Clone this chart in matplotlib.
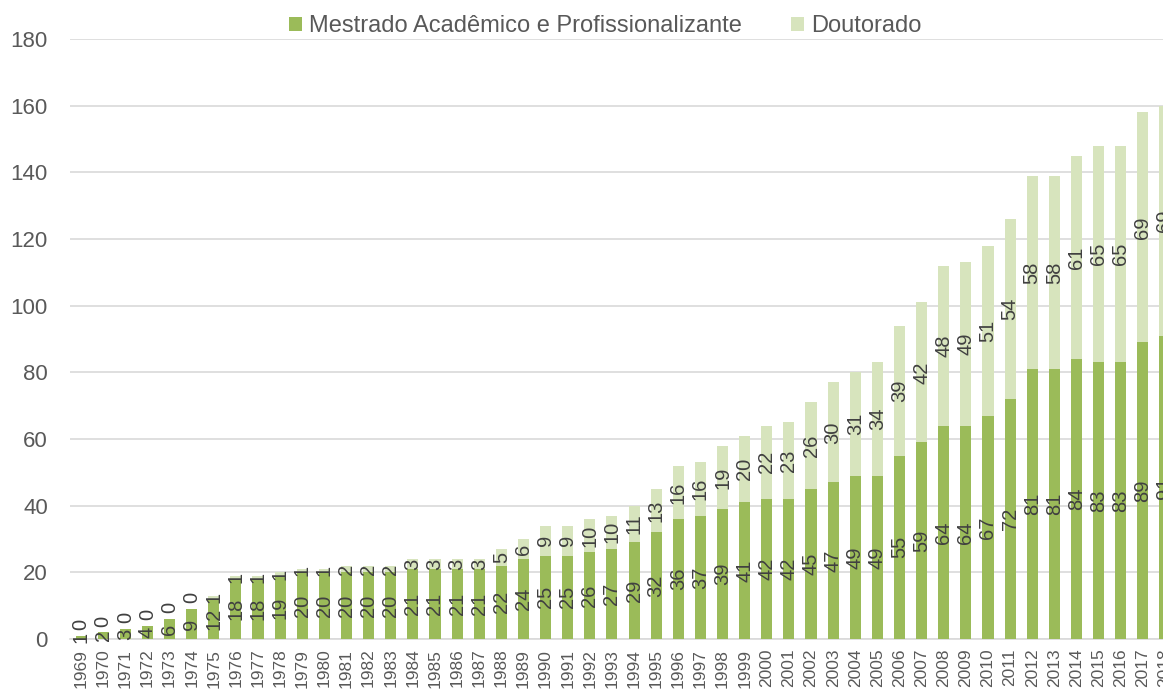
import matplotlib
matplotlib.use("Agg")
import matplotlib.pyplot as plt
import numpy as np

plt.rcParams['font.family'] = ['Liberation Sans', 'DejaVu Sans']

years = list(range(1969, 2019))
mestrado = [1, 2, 3, 4, 6, 9, 12, 18, 18, 19, 20, 20, 20, 20, 20, 21, 21, 21, 21, 22,
            24, 25, 25, 26, 27, 29, 32, 36, 37, 39, 41, 42, 42, 45, 47, 49, 49, 55, 59, 64,
            64, 67, 72, 81, 81, 84, 83, 83, 89, 91]
doutorado = [0, 0, 0, 0, 0, 0, 1, 1, 1, 1, 1, 1, 2, 2, 2, 3, 3, 3, 3, 5,
             6, 9, 9, 10, 10, 11, 13, 16, 16, 19, 20, 22, 23, 26, 30, 31, 34, 39, 42, 48,
             49, 51, 54, 58, 58, 61, 65, 65, 69, 69]
series_names = ["Mestrado Acadêmico e Profissionalizante", "Doutorado"]
yticks = [0, 20, 40, 60, 80, 100, 120, 140, 160, 180]

c_m = "#9BBB59"
c_d = "#D7E4BD"
txt = "#595959"
lbl = "#404040"

fig = plt.figure(figsize=(11.63, 6.90), dpi=100)
ax = fig.add_axes([70/1163, 51/690, 1106/1163, 600/690])

x = np.arange(len(years))
m = np.array(mestrado)
d = np.array(doutorado)
w = 0.5
b1 = ax.bar(x, m, width=w, color=c_m, label=series_names[0], zorder=3)
b2 = ax.bar(x, d, width=w, bottom=m, color=c_d, label=series_names[1], zorder=3)

for xi, mv, dv in zip(x, m, d):
    ax.text(xi, mv/2, str(mv), rotation=90, ha='center', va='center',
            fontsize=14.5, color=lbl, zorder=4, clip_on=False)
    if dv == 0:
        ax.annotate(str(dv), xy=(xi, mv), xytext=(0, 4), textcoords='offset points',
                    rotation=90, ha='center', va='bottom', fontsize=14.5,
                    color=lbl, zorder=4, annotation_clip=False)
    else:
        ax.text(xi, mv + dv/2, str(dv), rotation=90, ha='center', va='center',
                fontsize=14.5, color=lbl, zorder=4, clip_on=False)

ax.set_xlim(-0.5, len(years) - 0.5)
ax.set_ylim(0, 180)
ax.set_yticks(yticks)
ax.set_yticklabels([str(v) for v in yticks], fontsize=16, color=txt)
ax.set_xticks(x)
ax.set_xticklabels([str(y) for y in years], rotation=90, fontsize=12.5, color=txt,
                   va='top', ha='center')
ax.tick_params(axis='both', length=0)
ax.tick_params(axis='x', pad=7)
ax.tick_params(axis='y', pad=16)
ax.grid(axis='y', color='#D9D9D9', linewidth=1.2, zorder=0)
ax.set_axisbelow(True)
for s in ['left', 'right', 'top']:
    ax.spines[s].set_visible(False)
ax.spines['bottom'].set_color('#D9D9D9')
ax.spines['bottom'].set_linewidth(1.2)

fig.legend(handles=[b1, b2], labels=series_names, loc='center',
           bbox_to_anchor=(605/1163, 1 - 26/690), ncol=2, frameon=False,
           fontsize=17, handlelength=0.55, handleheight=0.55, handletextpad=0.3,
           columnspacing=2.1, labelcolor=txt, borderpad=0, borderaxespad=0)

fig.savefig("out.png", dpi=100)
